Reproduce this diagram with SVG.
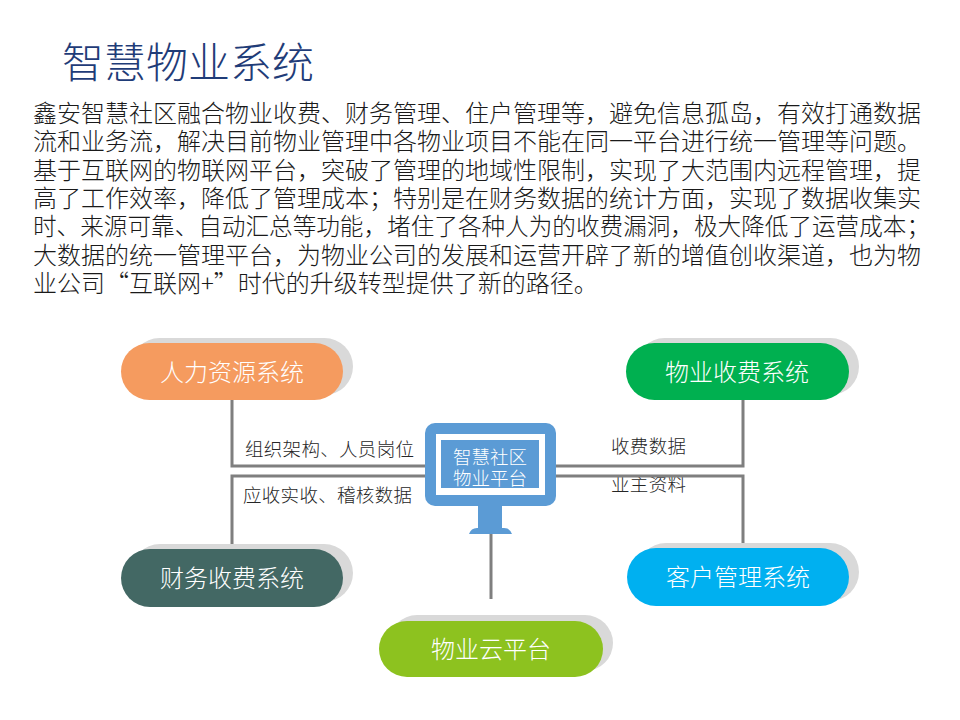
<svg xmlns="http://www.w3.org/2000/svg" width="960" height="720" viewBox="0 0 960 720">
<defs>
<style>
.cjk{font-family:"Noto Sans CJK SC","Noto Sans",sans-serif;font-weight:300;}
.title{font-size:42px;fill:#1F3C78;}
.para{font-size:24px;fill:#1a1a1a;}
.ntext{font-size:24px;fill:#ffffff;text-anchor:middle;}
.lbl{font-size:18.5px;fill:#262626;}
.conn{stroke:#7F7F7F;stroke-width:3;fill:none;}
.shadow{fill:#D9D9D9;}
.mon{fill:#5B9BD5;}
</style>
</defs>
<rect width="960" height="720" fill="#ffffff"/>
<text class="cjk title" x="62" y="78">智慧物业系统</text>
<g id="paragraph" class="cjk para">
<text x="33" y="122" textLength="888" lengthAdjust="spacing">鑫安智慧社区融合物业收费、财务管理、住户管理等，避免信息孤岛，有效打通数据</text>
<text x="33" y="150" textLength="888" lengthAdjust="spacing">流和业务流，解决目前物业管理中各物业项目不能在同一平台进行统一管理等问题。</text>
<text x="33" y="179" textLength="888" lengthAdjust="spacing">基于互联网的物联网平台，突破了管理的地域性限制，实现了大范围内远程管理，提</text>
<text x="33" y="207" textLength="888" lengthAdjust="spacing">高了工作效率，降低了管理成本；特别是在财务数据的统计方面，实现了数据收集实</text>
<text x="33" y="235" textLength="897" lengthAdjust="spacingAndGlyphs">时、来源可靠、自动汇总等功能，堵住了各种人为的收费漏洞，极大降低了运营成本；</text>
<text x="33" y="264" textLength="888" lengthAdjust="spacing">大数据的统一管理平台，为物业公司的发展和运营开辟了新的增值创收渠道，也为物</text>
<text x="33" y="292">业公司“互联网+”时代的升级转型提供了新的路径。</text>
</g>
<g id="labels" class="cjk lbl">
<text x="245" y="456" textLength="169">组织架构、人员岗位</text>
<text x="243" y="502" textLength="169">应收实收、稽核数据</text>
<text x="611" y="453" textLength="75">收费数据</text>
<text x="611" y="491" textLength="75">业主资料</text>
</g>
<g id="connectors">
<polyline class="conn" points="232,400 232,466 425,466"/>
<polyline class="conn" points="425,476 232,476 232,545"/>
<polyline class="conn" points="556,466 743,466 743,400"/>
<polyline class="conn" points="556,476 743,476 743,546"/>
<line class="conn" x1="491" y1="532" x2="491" y2="599"/>
</g>
<g id="node-hr">
<rect class="shadow" x="131" y="338" width="222" height="57" rx="28.5"/>
<rect x="121" y="343" width="222" height="57" rx="28.5" fill="#F59B5F"/>
<text class="cjk ntext" x="232" y="381">人力资源系统</text>
</g>
<g id="node-fee">
<rect class="shadow" x="636" y="338" width="223" height="57" rx="28.5"/>
<rect x="626" y="343" width="223" height="57" rx="28.5" fill="#00B050"/>
<text class="cjk ntext" x="737" y="381">物业收费系统</text>
</g>
<g id="node-finance">
<rect class="shadow" x="131" y="544" width="222" height="58" rx="29"/>
<rect x="121" y="549" width="222" height="58" rx="29" fill="#436864"/>
<text class="cjk ntext" x="232" y="587">财务收费系统</text>
</g>
<g id="node-customer">
<rect class="shadow" x="637" y="543" width="222" height="58" rx="29"/>
<rect x="627" y="548" width="222" height="58" rx="29" fill="#00B0F0"/>
<text class="cjk ntext" x="738" y="586">客户管理系统</text>
</g>
<g id="node-cloud">
<rect class="shadow" x="389" y="615" width="224" height="56" rx="28"/>
<rect x="379" y="621" width="224" height="56" rx="28" fill="#8DC21F"/>
<text class="cjk ntext" x="491" y="658">物业云平台</text>
</g>
<g id="node-platform">
<rect class="mon" x="478" y="504" width="24" height="26"/>
<path class="mon" d="M469,534 Q471,528 477,528 L504,528 Q510,528 512,534 Z"/>
<rect class="mon" x="425" y="423" width="131" height="83" rx="10"/>
<rect x="436" y="434" width="109" height="61" fill="#ffffff"/>
<rect class="mon" x="441" y="440" width="98" height="48"/>
<text class="cjk" x="490" y="464" font-size="18.5" fill="#ffffff" text-anchor="middle">智慧社区</text>
<text class="cjk" x="490" y="485" font-size="18.5" fill="#ffffff" text-anchor="middle">物业平台</text>
</g>
</svg>
